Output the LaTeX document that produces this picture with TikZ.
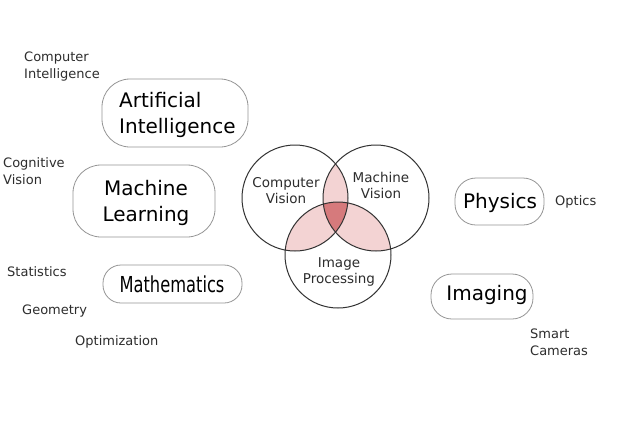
\documentclass[tikz,border=0pt]{standalone}
\usepackage{fontspec}
\setmainfont{DejaVu Sans}
\usetikzlibrary{positioning}
\definecolor{lenslight}{RGB}{243,211,211}
\definecolor{lensdark}{RGB}{214,122,124}
\definecolor{boxline}{RGB}{150,150,150}
\definecolor{ringline}{RGB}{50,50,50}
\definecolor{softtext}{RGB}{45,45,45}
\begin{document}
\begin{tikzpicture}[x=1pt,y=-1pt,
  fieldbox/.style={draw=boxline,line width=0.8pt,rounded corners=28pt},
  bigtxt/.style={inner sep=0pt,anchor=base,font=\fontsize{20}{26}\selectfont,align=center},
  smalltxt/.style={inner sep=0pt,anchor=base west,text=softtext,font=\fontsize{13}{17}\selectfont,align=left},
  ringtxt/.style={inner sep=0pt,anchor=base,text=softtext,font=\fontsize{13.5}{16}\selectfont,align=center},
  ring/.style={draw=ringline,line width=1pt}]
\useasboundingbox (0,0) rectangle (629,440);
\fill[white] (0,0) rectangle (629,440);

% field boxes
\draw[fieldbox] (102,79) rectangle (248,147);
\draw[fieldbox] (73,165) rectangle (215,237);
\draw[fieldbox,rounded corners=18pt] (103,265) rectangle (242,303);
\draw[fieldbox,rounded corners=21pt] (455,178) rectangle (544,225);
\draw[fieldbox,rounded corners=21pt] (431,274) rectangle (533,319);

% field labels (multi-line labels sit on the baseline of their last line)
\node[bigtxt,anchor=base west,align=left] (ai) at (119,133) {Artificial\\Intelligence};
\node[bigtxt] (ml) at (146,221) {Machine\\Learning};
\node[bigtxt] (math) at (172,292) {\scalebox{0.74}[1]{\fontsize{22}{26}\selectfont Mathematics}};
\node[bigtxt] (phys) at (500,208) {Physics};
\node[bigtxt] (img) at (487,300) {Imaging};

% related topics
\node[smalltxt] (ci) at (24,78) {Computer\\Intelligence};
\node[smalltxt] (cogv) at (3,184) {Cognitive\\Vision};
\node[smalltxt] (stat) at (7,276) {Statistics};
\node[smalltxt] (geom) at (22,314) {Geometry};
\node[smalltxt] (opt) at (75,345) {Optimization};
\node[smalltxt] (optics) at (555,205) {Optics};
\node[smalltxt] (smart) at (530,355) {Smart\\Cameras};

% Venn diagram of the three vision fields
\coordinate (cv) at (295,198);
\coordinate (mv) at (376,198);
\coordinate (ip) at (338,255);
\def\rr{53}
\begin{scope}
  \clip (cv) circle[radius=\rr];
  \fill[lenslight] (mv) circle[radius=\rr];
  \fill[lenslight] (ip) circle[radius=\rr];
\end{scope}
\begin{scope}
  \clip (mv) circle[radius=\rr];
  \fill[lenslight] (ip) circle[radius=\rr];
\end{scope}
\begin{scope}
  \clip (cv) circle[radius=\rr];
  \clip (mv) circle[radius=\rr];
  \fill[lensdark] (ip) circle[radius=\rr];
\end{scope}
\draw[ring] (cv) circle[radius=\rr];
\draw[ring] (mv) circle[radius=\rr];
\draw[ring] (ip) circle[radius=\rr];

\node[ringtxt] (cvl) at (286,203) {Computer\\Vision};
\node[ringtxt] (mvl) at (381,198) {Machine\\Vision};
\node[ringtxt] (ipl) at (339,283) {Image\\Processing};
\end{tikzpicture}
\end{document}
